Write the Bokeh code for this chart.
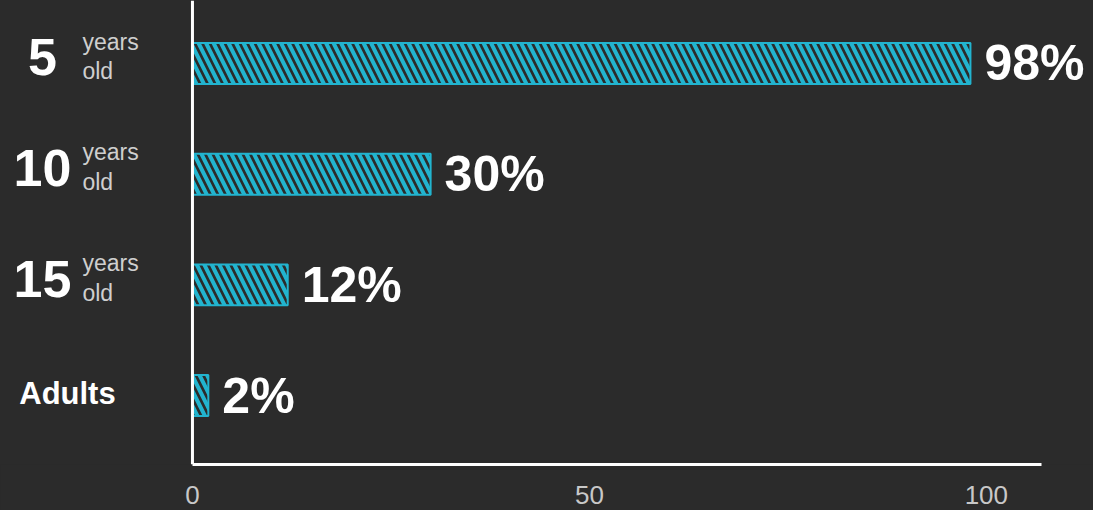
from bokeh.plotting import figure
from bokeh.models import Range1d, FixedTicker, ColumnDataSource, Span, GlobalInlineStyleSheet
from bokeh.core.properties import value
from bokeh.embed import file_html
from bokeh.resources import INLINE

# ---- data ----
categories = ["5 years old", "10 years old", "15 years old", "Adults"]
values = [98, 30, 12, 2]
x_ticks = [0, 50, 100]

# ---- style ----
BG = "#2b2b2b"
CYAN = "#22b4cf"
FONT = "Liberation Sans"

positions = list(range(len(categories)))
ages = [c.split(" ")[0] if "years" in c else "" for c in categories]
units = ["years\nold" if "years" in c else "" for c in categories]
names = ["" if "years" in c else c for c in categories]
value_labels = [f"{v}%" for v in values]
zeros = [x_ticks[0]] * len(values)

src = ColumnDataSource(dict(y=positions, v=values, lbl=value_labels, age=ages,
                            unit=units, name=names, zero=zeros))

p = figure(width=1093, height=510, output_backend="svg", toolbar_location=None,
           x_range=Range1d(-24.18, 113.5), y_range=Range1d(3.623, -0.569),
           min_border_left=0, min_border_right=0, min_border_top=0, min_border_bottom=46,
           background_fill_color=BG, background_fill_alpha=0,
           border_fill_color=BG, outline_line_color=None)
p.stylesheets = [GlobalInlineStyleSheet(css="html, body { background: #2b2b2b; overflow: hidden; }")]

p.hbar(y="y", left="zero", right="v", height=0.37, source=src,
       fill_color=BG, line_color=CYAN, line_width=2,
       hatch_pattern="\\", hatch_color=CYAN, hatch_weight=4, hatch_scale=15)

p.add_layout(Span(location=x_ticks[0], dimension="height", line_color="white", line_width=3))

p.text(x="zero", y="y", text="age", source=src, x_offset=-150, y_offset=-6,
       text_align="center", text_baseline="middle", text_font=value(FONT),
       text_font_style="bold", text_font_size="52px", text_color="white")
p.text(x="zero", y="y", text="unit", source=src, x_offset=-110, y_offset=-7,
       text_align="left", text_baseline="middle", text_font=value(FONT),
       text_font_size="23px", text_color="#cfcfcf", text_line_height=1.15)
p.text(x="zero", y="y", text="name", source=src, x_offset=-125, y_offset=-2,
       text_align="center", text_baseline="middle", text_font=value(FONT),
       text_font_style="bold", text_font_size="31px", text_color="white")
p.text(x="v", y="y", text="lbl", source=src, x_offset=14,
       text_align="left", text_baseline="middle", text_font=value(FONT),
       text_font_style="bold", text_font_size="50px", text_color="white")

p.yaxis.visible = False
p.grid.visible = False
ax = p.xaxis[0]
ax.ticker = FixedTicker(ticks=x_ticks)
ax.bounds = (x_ticks[0], 107)
ax.axis_line_color = "white"
ax.axis_line_width = 3
ax.major_tick_line_color = None
ax.minor_tick_line_color = None
ax.major_label_standoff = 15
ax.major_label_text_font = FONT
ax.major_label_text_font_size = "26px"
ax.major_label_text_color = "#c8c8c8"

open("out.html", "w").write(file_html(p, INLINE))
